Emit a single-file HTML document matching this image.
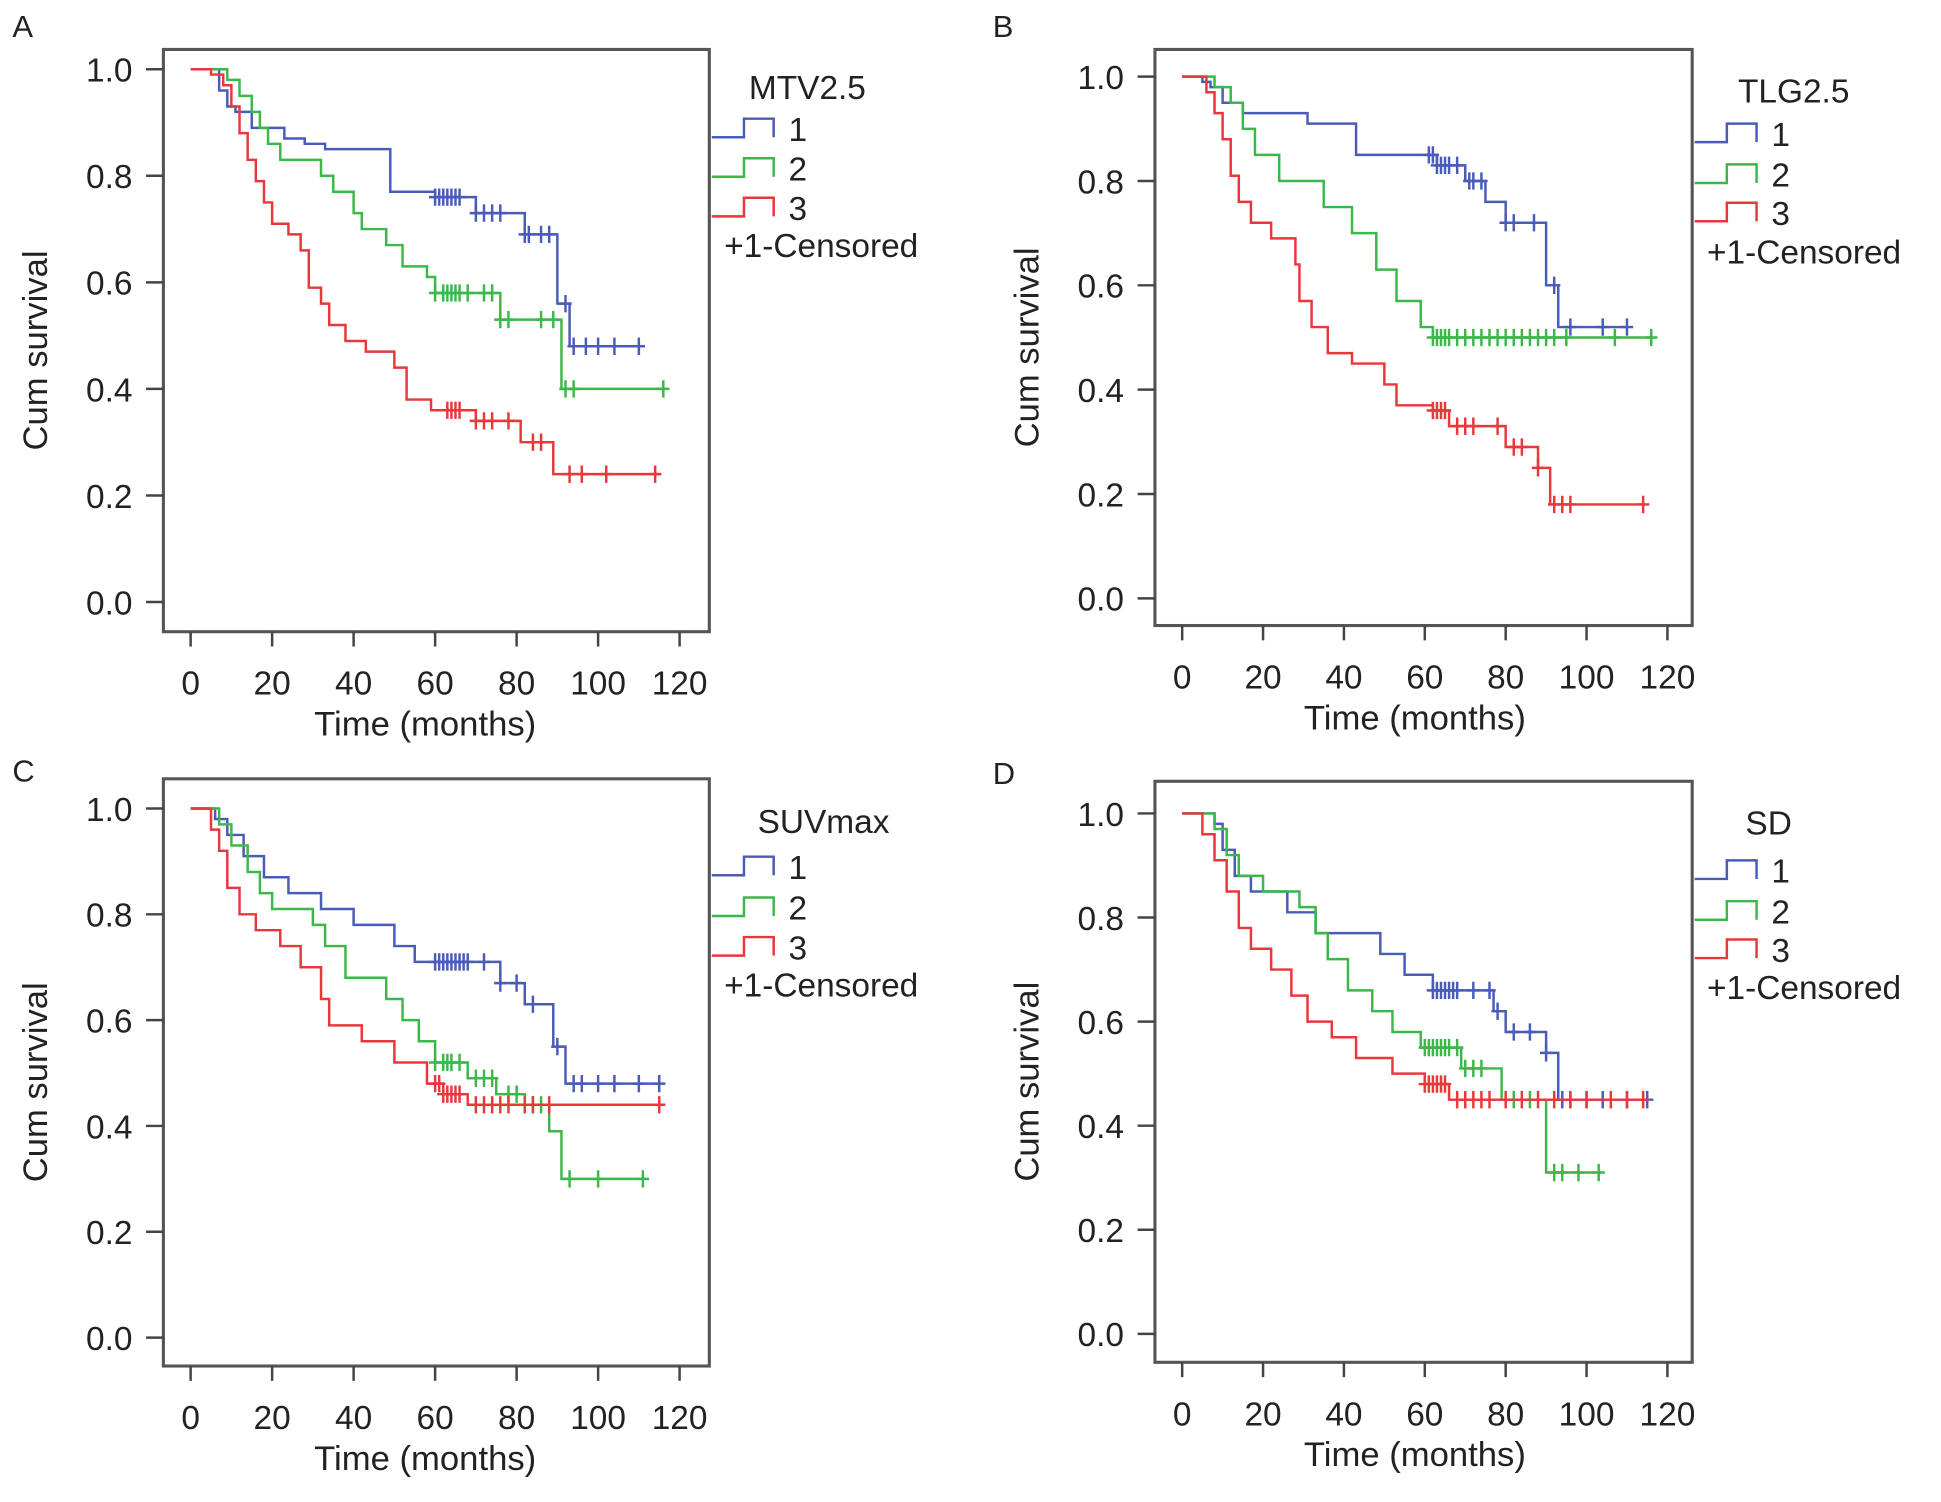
<!DOCTYPE html>
<html><head><meta charset="utf-8"><style>
html,body{margin:0;padding:0;background:#fff}
svg{display:block}
text{font-family:"Liberation Sans",sans-serif;fill:#222}
</style></head><body>
<svg id="fig" width="1941" height="1502" viewBox="0 0 1568 1215" preserveAspectRatio="none" xmlns="http://www.w3.org/2000/svg"></svg>
<script>
// ---- data (time months, survival) ----
const xTicks=[0,20,40,60,80,100,120];
const yTicks=[0,0.2,0.4,0.6,0.8,1.0];
const yTickLabels=["0.0","0.2","0.4","0.6","0.8","1.0"];
const groupLabels=["1","2","3"];
const titles=["MTV2.5","TLG2.5","SUVmax","SD"];
const panelLetters=["A","B","C","D"];

const aBlueT=[7,9,11,15,23,28,33,49,60,70,82,90,93], aBlueS=[0.96,0.93,0.92,0.89,0.87,0.86,0.85,0.77,0.76,0.73,0.69,0.56,0.48], aBlueEnd=110;
const aBlueC=[60,61,62,63,64,65,66,70,72,74,76,82,83,86,88,92,94,97,100,104,110];
const aGreenT=[9,12,15,17,19,22,32,35,40,42,48,52,58,60,76,91], aGreenS=[0.98,0.95,0.92,0.89,0.86,0.83,0.80,0.77,0.73,0.70,0.67,0.63,0.61,0.58,0.53,0.40], aGreenEnd=116;
const aGreenC=[60,62,63,64,65,66,68,72,74,76,78,86,89,92,94,116];
const aRedT=[5,8,10,12,14,16,18,20,24,27,29,32,34,38,43,50,53,59,70,81,89], aRedS=[0.99,0.97,0.93,0.88,0.83,0.79,0.75,0.71,0.69,0.66,0.59,0.56,0.52,0.49,0.47,0.44,0.38,0.36,0.34,0.30,0.24], aRedEnd=115;
const aRedC=[63,64,65,66,70,72,74,78,84,86,93,96,102,114];

const bBlueT=[5,7,10,15,31,43,63,70,75,80,90,93], bBlueS=[0.99,0.98,0.95,0.93,0.91,0.85,0.83,0.80,0.76,0.72,0.60,0.52], bBlueEnd=110;
const bBlueC=[61,62,63,64,65,66,68,71,72,74,80,82,87,92,96,104,110];
const bGreenT=[8,12,15,18,24,35,42,48,53,59,62], bGreenS=[0.98,0.95,0.90,0.85,0.80,0.75,0.70,0.63,0.57,0.52,0.50], bGreenEnd=116;
const bGreenC=[62,63,64,65,66,68,70,72,74,76,78,80,82,84,86,88,90,92,95,107,116];
const bRedT=[6,8,10,12,14,17,22,28,29,32,36,42,50,53,62,66,80,88,91], bRedS=[0.97,0.93,0.88,0.81,0.76,0.72,0.69,0.64,0.57,0.52,0.47,0.45,0.41,0.37,0.36,0.33,0.29,0.25,0.18], bRedEnd=114;
const bRedC=[62,63,64,65,68,70,72,78,82,84,88,92,94,96,114];

const cBlueT=[6,9,13,18,24,32,40,50,55,76,82,89,92], cBlueS=[0.98,0.95,0.91,0.87,0.84,0.81,0.78,0.74,0.71,0.67,0.63,0.55,0.48], cBlueEnd=115;
const cBlueC=[60,61,62,63,64,65,66,67,68,72,76,80,84,90,94,96,100,104,110,115];
const cGreenT=[7,10,14,17,20,30,33,38,48,52,56,60,68,75,82,88,91], cGreenS=[0.97,0.93,0.88,0.84,0.81,0.78,0.74,0.68,0.64,0.60,0.56,0.52,0.49,0.46,0.44,0.39,0.30], cGreenEnd=111;
const cGreenC=[60,62,63,64,66,70,72,74,78,80,84,86,93,100,111];
const cRedT=[5,7,9,12,16,22,27,32,34,42,50,58,62,68], cRedS=[0.96,0.92,0.85,0.80,0.77,0.74,0.70,0.64,0.59,0.56,0.52,0.48,0.46,0.44], cRedEnd=115;
const cRedC=[60,61,62,63,64,65,66,70,72,74,76,78,82,84,88,115];

const dBlueT=[8,10,13,17,26,33,49,55,62,77,80,90,93], dBlueS=[0.98,0.93,0.88,0.85,0.81,0.77,0.73,0.69,0.66,0.62,0.58,0.54,0.45], dBlueEnd=115;
const dBlueC=[62,63,64,65,66,67,68,72,76,78,82,86,90,94,96,100,104,110,115];
const dGreenT=[8,11,14,20,29,33,36,41,47,52,59,69,79,90], dGreenS=[0.97,0.92,0.88,0.85,0.82,0.77,0.72,0.66,0.62,0.58,0.55,0.51,0.45,0.31], dGreenEnd=103;
const dGreenC=[60,61,62,63,64,65,66,68,70,72,74,82,86,92,94,98,103];
const dRedT=[5,8,11,14,17,22,27,31,37,43,52,60,66], dRedS=[0.96,0.91,0.85,0.78,0.74,0.70,0.65,0.60,0.57,0.53,0.50,0.48,0.45], dRedEnd=114;
const dRedC=[60,61,62,63,64,65,68,70,72,74,76,80,84,88,92,96,100,106,110,114];

const panelSeries=[
 [[aBlueT,aBlueS,aBlueEnd,aBlueC],[aGreenT,aGreenS,aGreenEnd,aGreenC],[aRedT,aRedS,aRedEnd,aRedC]],
 [[bBlueT,bBlueS,bBlueEnd,bBlueC],[bGreenT,bGreenS,bGreenEnd,bGreenC],[bRedT,bRedS,bRedEnd,bRedC]],
 [[cBlueT,cBlueS,cBlueEnd,cBlueC],[cGreenT,cGreenS,cGreenEnd,cGreenC],[cRedT,cRedS,cRedEnd,cRedC]],
 [[dBlueT,dBlueS,dBlueEnd,dBlueC],[dGreenT,dGreenS,dGreenEnd,dGreenC],[dRedT,dRedS,dRedEnd,dRedC]]
];
const colors=["#4a5cb8","#3cb84a","#e8383c"];
const colorNames=["blue","green","red"];

const layouts=[
 {bl:132,br:573,bt:40,bb:511,y1:56,y0:487,x0:154,x120:549,lx:575,ly:[103,135,167],tx:605,ty:80,cy:208,letX:10,letY:30},
 {bl:933,br:1367,bt:40,bb:506,y1:62,y0:484,x0:955,x120:1347,lx:1369,ly:[107,140,171],tx:1404,ty:83,cy:213,letX:802,letY:30},
 {bl:132,br:573,bt:630,bb:1105,y1:654,y0:1082,x0:154,x120:549,lx:575,ly:[700,733,765],tx:612,ty:674,cy:806,letX:10,letY:632},
 {bl:933,br:1367,bt:632,bb:1102,y1:658,y0:1079,x0:955,x120:1347,lx:1369,ly:[703,736,767],tx:1410,ty:675,cy:808,letX:802,letY:634}
];
const NS="http://www.w3.org/2000/svg";
const svg=document.getElementById('fig');
function mk(tag,attrs,parent,txt){const e=document.createElementNS(NS,tag);for(const k in attrs)e.setAttribute(k,attrs[k]);if(txt!==undefined)e.textContent=txt;(parent||svg).appendChild(e);return e;}

layouts.forEach((L,p)=>{
 const g=mk('g',{});
 
 
 const X=t=>L.x0+(L.x120-L.x0)*t/120;
 const Y=s=>L.y0+(L.y1-L.y0)*s;
 const let_=mk('text',{x:L.letX,y:L.letY,'font-size':25},g,panelLetters[p]);
 
 
 const box=mk('rect',{x:L.bl,y:L.bt,width:L.br-L.bl,height:L.bb-L.bt,fill:'none',stroke:'#555','stroke-width':2.5},g);
 
 
 yTicks.forEach((v,i)=>{
  mk('line',{x1:L.bl-14,x2:L.bl,y1:Y(v),y2:Y(v),stroke:'#444','stroke-width':2},g);
  const t=mk('text',{x:L.bl-25,y:Y(v)+10,'font-size':27,'text-anchor':'end'},g,yTickLabels[i]);
  
  
 });
 xTicks.forEach(v=>{
  mk('line',{x1:X(v),x2:X(v),y1:L.bb,y2:L.bb+12,stroke:'#444','stroke-width':2},g);
  const t=mk('text',{x:X(v),y:L.bb+51,'font-size':27,'text-anchor':'middle'},g,String(v));
  
  
 });
 const xt=mk('text',{x:(L.x0+L.x120)/2-8,y:L.bb+84,'font-size':28,'text-anchor':'middle'},g,'Time (months)');
 
 
 const ymid=(L.bt+L.bb)/2+8, yx=L.bl-94;
 const yt=mk('text',{x:yx,y:ymid,'font-size':28,'text-anchor':'middle',transform:`rotate(-90 ${yx} ${ymid})`},g,'Cum survival');
 
 
 panelSeries[p].forEach((ser,k)=>{
  const [T,S,end,C]=ser;
  let d=`M${X(0)},${Y(1)}`;
  T.forEach((t,i)=>{d+=` H${X(t)} V${Y(S[i])}`;});
  d+=` H${X(end)}`;
  const path=mk('path',{d:d,fill:'none',stroke:colors[k],'stroke-width':2},g);
  
  
  C.forEach(c=>{
   let s=1;T.forEach((t,i)=>{if(t<=c)s=S[i];});
   const cm=mk('path',{d:`M${X(c)},${Y(s)-7} V${Y(s)+7} M${X(c)-5},${Y(s)} H${X(c)+5}`,stroke:colors[k],'stroke-width':2},g);
   
   
  });
 });
 const tt=mk('text',{x:L.tx,y:L.ty,'font-size':27},g,titles[p]);
 
 
 L.ly.forEach((ly,k)=>{
  const ic=mk('path',{d:`M${L.lx},${ly+8} H${L.lx+26} V${ly-7} H${L.lx+50} V${ly+8}`,fill:'none',stroke:colors[k],'stroke-width':2},g);
  
  
  const lt=mk('text',{x:L.lx+62,y:ly+11,'font-size':27},g,groupLabels[k]);
  
  
 });
 const ce=mk('text',{x:L.lx+10,y:L.cy,'font-size':27},g,'+1-Censored');
 
 
});
</script>
</body></html>
